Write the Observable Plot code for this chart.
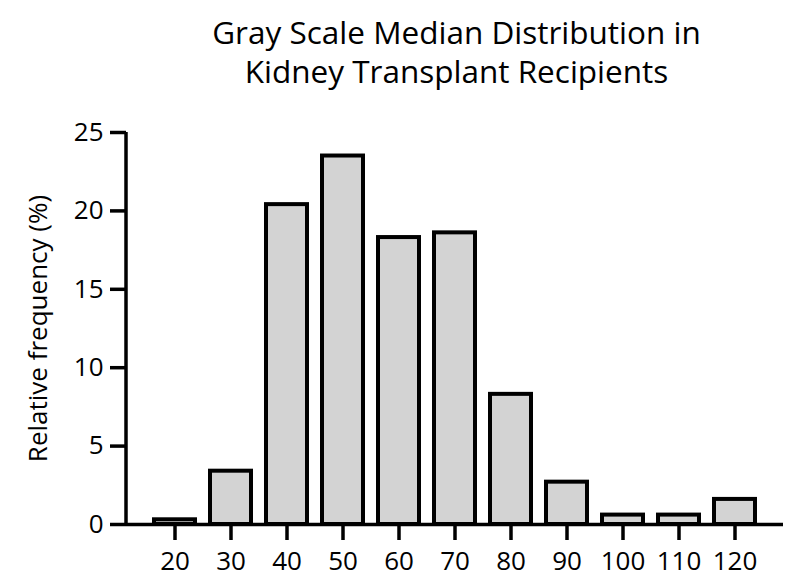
<!DOCTYPE html>
<html><head><meta charset="utf-8">
<script src="https://cdn.jsdelivr.net/npm/d3@7"></script>
<script src="https://cdn.jsdelivr.net/npm/@observablehq/plot@0.6"></script>
<style>
body{margin:0;background:#fff;font-family:"Open Sans",sans-serif;}
#wrap{position:relative;width:797px;height:588px;}
#title{position:absolute;left:128px;width:657px;top:12px;text-align:center;font-size:31.5px;line-height:39px;color:#000;}
#chart{position:absolute;left:0;top:0;}
</style></head><body>
<div id="wrap"><div id="chart"></div><div id="title"></div></div>
<script>
const categories = ["20","30","40","50","60","70","80","90","100","110","120"];
const frequencies = [0.3, 3.4, 20.4, 23.5, 18.3, 18.6, 8.3, 2.7, 0.6, 0.6, 1.6];
const yTicks = [0, 5, 10, 15, 20, 25];
const titleLines = ["Gray Scale Median Distribution in", "Kidney Transplant Recipients"];
const yLabel = "Relative frequency (%)";

const data = categories.map((c, i) => ({bin: c, freq: frequencies[i]}));

const chart = Plot.plot({
  width: 797, height: 588,
  marginTop: 132, marginBottom: 64, marginLeft: 126, marginRight: 14,
  style: {fontFamily: "Open Sans", background: "white", color: "black"},
  x: {domain: categories, paddingInner: 0.27, paddingOuter: 0.47, label: null},
  y: {domain: [0, 25], ticks: yTicks, label: null},
  marks: [
    Plot.barY(data, {x: "bin", y: "freq", fill: "#d3d3d3", stroke: "black", strokeWidth: 4}),
    Plot.ruleY([0], {strokeWidth: 3.5}),
    Plot.axisX({tickSize: 16, tickPadding: 11, fontSize: 26, strokeWidth: 3.5, label: null}),
    Plot.axisY({ticks: yTicks, tickSize: 16, tickPadding: 7, fontSize: 26, strokeWidth: 3.5, label: null}),
    Plot.text([yLabel], {frameAnchor: "left", textAnchor: "middle", rotate: -90, dx: -88, fontSize: 26})
  ]
});

// vertical y-axis line drawn through the chart's own y scale
const ys = chart.scale("y");
d3.select(chart).append("line")
  .attr("x1", 126).attr("x2", 126)
  .attr("y1", ys.apply(0) + 1.75).attr("y2", ys.apply(25))
  .attr("stroke", "black").attr("stroke-width", 3.5);

document.getElementById("chart").appendChild(chart);
document.getElementById("title").innerHTML = titleLines.join("<br>");
</script>
</body></html>
